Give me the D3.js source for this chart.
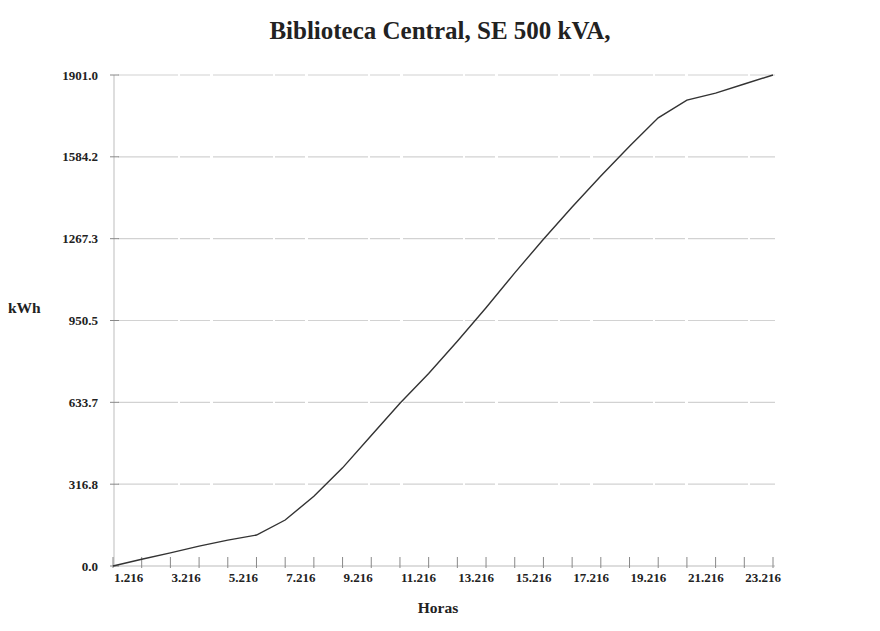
<!DOCTYPE html>
<html><head><meta charset="utf-8">
<script src="https://cdn.jsdelivr.net/npm/d3@7"></script>
<style>body{margin:0;background:#fff}svg text{font-family:"Liberation Serif","Times New Roman",serif;font-weight:bold;fill:#222}</style>
</head><body><svg id="c" width="880" height="631"></svg>
<script>
const hours = [1.216,2.216,3.216,4.216,5.216,6.216,7.216,8.216,9.216,10.216,11.216,12.216,13.216,14.216,15.216,16.216,17.216,18.216,19.216,20.216,21.216,22.216,23.216,24.216];
const kwh = [0,26,51,77,100,120,178,270,380,505,630,745,870,1000,1135,1265,1390,1510,1625,1735,1804,1831,1866,1901];
const yTicks = [0.0,316.8,633.7,950.5,1267.3,1584.2,1901.0];
const xLabels = [1.216,3.216,5.216,7.216,9.216,11.216,13.216,15.216,17.216,19.216,21.216,23.216];

const svg = d3.select("#c");
const x = d3.scaleLinear().domain([1.216,24.216]).range([113,773]);
const y = d3.scaleLinear().domain([0,1901]).range([566,75]);

// gridlines
svg.append("g").selectAll("line").data(yTicks.slice(1)).join("line")
  .attr("x1",118).attr("x2",775).attr("y1",d=>y(d)).attr("y2",d=>y(d))
  .attr("stroke","#d2d2d2").attr("stroke-width",1.2).attr("stroke-dasharray","60,2,30,3");

// y axis line
svg.append("line").attr("x1",114).attr("x2",114).attr("y1",y(1901)).attr("y2",y(0))
  .attr("stroke","#c8c8c8").attr("stroke-width",1.2);
// x axis line
svg.append("line").attr("x1",113).attr("x2",775).attr("y1",y(0)).attr("y2",y(0))
  .attr("stroke","#bbb").attr("stroke-width",1);

// y ticks & labels
const yg = svg.append("g");
yg.selectAll("line").data(yTicks).join("line")
  .attr("x1",110).attr("x2",119).attr("y1",d=>y(d)).attr("y2",d=>y(d))
  .attr("stroke","#888").attr("stroke-width",1);
yg.selectAll("text").data(yTicks).join("text")
  .attr("x",98).attr("y",d=>y(d)+4.5).attr("text-anchor","end")
  .attr("font-size",13).text(d=>d.toFixed(1));

// x ticks
svg.append("g").selectAll("line").data(hours).join("line")
  .attr("x1",d=>x(d)).attr("x2",d=>x(d)).attr("y1",y(0)-9).attr("y2",y(0)+2)
  .attr("stroke","#888").attr("stroke-width",1);
svg.append("g").selectAll("text").data(xLabels).join("text")
  .attr("x",d=>x(d)+1).attr("y",582).attr("font-size",13).text(d=>d.toFixed(3));

// line
svg.append("path").datum(hours.map((h,i)=>[h,kwh[i]]))
  .attr("fill","none").attr("stroke","#333").attr("stroke-width",1.4)
  .attr("d",d3.line().x(d=>x(d[0])).y(d=>y(d[1])));

// titles
svg.append("text").attr("x",440).attr("y",39).attr("text-anchor","middle")
  .attr("font-size",25).text("Biblioteca Central, SE 500 kVA,");
svg.append("text").attr("x",8).attr("y",313).attr("font-size",15.5).text("kWh");
svg.append("text").attr("x",438).attr("y",613).attr("text-anchor","middle")
  .attr("font-size",15.5).text("Horas");
</script></body></html>
